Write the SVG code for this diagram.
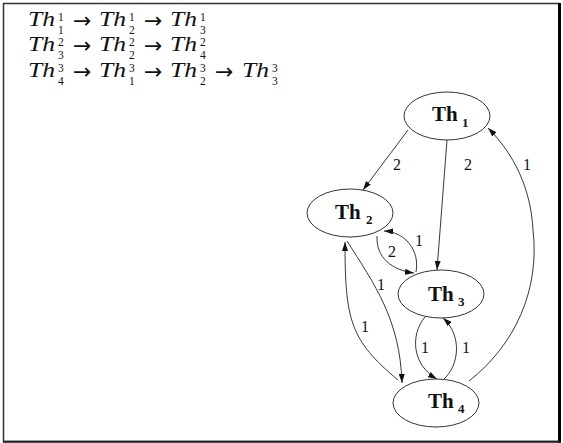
<svg xmlns="http://www.w3.org/2000/svg" width="563" height="443" viewBox="0 0 563 443">
<style>
.node ellipse{fill:#fff;stroke:#333;stroke-width:1}
.lbl{font-family:"Liberation Serif",serif;font-weight:bold;font-size:21px;fill:#111}
.sub{font-family:"Liberation Serif",serif;font-weight:bold;font-size:13px;fill:#111}
.edge{fill:none;stroke:#222;stroke-width:0.9;marker-end:url(#ah)}
.elbl{font-family:"Liberation Serif",serif;font-size:16px;fill:#111;text-anchor:middle}
.m{font-family:"Liberation Serif",serif;font-style:italic;font-weight:normal;font-size:21px;fill:#111}
.s{font-family:"Liberation Serif",serif;font-size:11.5px;fill:#111}
.ar{font-family:"DejaVu Sans",sans-serif;font-size:22px;fill:#111}
</style>
<defs>
<marker id="ah" markerWidth="9" markerHeight="6" refX="9" refY="3" orient="auto" markerUnits="userSpaceOnUse">
<path d="M0,0 L9,3 L0,6 Z" fill="#111"/>
</marker>
</defs>
<rect x="3.5" y="3.5" width="556" height="438" fill="#fff" stroke="#333" stroke-width="1.5"/>
<line x1="559.5" y1="3" x2="559.5" y2="443" stroke="#000" stroke-width="3"/>
<line x1="3" y1="441.8" x2="561" y2="441.8" stroke="#222" stroke-width="2"/>
<g id="math">
<text class="m" x="28" y="26" textLength="27" lengthAdjust="spacingAndGlyphs">Th</text>
<text class="s" x="58" y="21">1</text><text class="s" x="58" y="33.5">1</text>
<text class="ar" x="73" y="28">→</text>
<text class="m" x="99" y="26" textLength="27" lengthAdjust="spacingAndGlyphs">Th</text>
<text class="s" x="129" y="21">1</text><text class="s" x="129" y="33.5">2</text>
<text class="ar" x="144" y="28">→</text>
<text class="m" x="170" y="26" textLength="27" lengthAdjust="spacingAndGlyphs">Th</text>
<text class="s" x="200" y="21">1</text><text class="s" x="200" y="33.5">3</text>

<text class="m" x="28" y="51" textLength="27" lengthAdjust="spacingAndGlyphs">Th</text>
<text class="s" x="58" y="46">2</text><text class="s" x="58" y="58.5">3</text>
<text class="ar" x="73" y="53">→</text>
<text class="m" x="99" y="51" textLength="27" lengthAdjust="spacingAndGlyphs">Th</text>
<text class="s" x="129" y="46">2</text><text class="s" x="129" y="58.5">2</text>
<text class="ar" x="144" y="53">→</text>
<text class="m" x="170" y="51" textLength="27" lengthAdjust="spacingAndGlyphs">Th</text>
<text class="s" x="200" y="46">2</text><text class="s" x="200" y="58.5">4</text>

<text class="m" x="28" y="77" textLength="27" lengthAdjust="spacingAndGlyphs">Th</text>
<text class="s" x="58" y="72">3</text><text class="s" x="58" y="84.5">4</text>
<text class="ar" x="73" y="79">→</text>
<text class="m" x="99" y="77" textLength="27" lengthAdjust="spacingAndGlyphs">Th</text>
<text class="s" x="129" y="72">3</text><text class="s" x="129" y="84.5">1</text>
<text class="ar" x="144" y="79">→</text>
<text class="m" x="170" y="77" textLength="27" lengthAdjust="spacingAndGlyphs">Th</text>
<text class="s" x="200" y="72">3</text><text class="s" x="200" y="84.5">2</text>
<text class="ar" x="215" y="79">→</text>
<text class="m" x="242" y="77" textLength="27" lengthAdjust="spacingAndGlyphs">Th</text>
<text class="s" x="272" y="72">3</text><text class="s" x="272" y="84.5">3</text>
</g>
<g id="edges">
<path class="edge" d="M408,130 L363,190"/>
<path class="edge" d="M447,140 L437,270"/>
<path class="edge" d="M469,381 C515,345 540,290 533,230 C531,190 515,155 488,128"/>
<path class="edge" d="M377,236 C376,258 392,270 414,273"/>
<path class="edge" d="M416,272 C420,250 405,232 384,231"/>
<path class="edge" d="M347,241 C375,285 400,320 402,383"/>
<path class="edge" d="M398,380 C350,340 345,320 345,242"/>
<path class="edge" d="M425,317 C410,335 412,365 437,379"/>
<path class="edge" d="M443,380 C460,365 462,335 443,318"/>
<text class="elbl" x="397" y="170">2</text>
<text class="elbl" x="468" y="170">2</text>
<text class="elbl" x="527" y="170">1</text>
<text class="elbl" x="392" y="257">2</text>
<text class="elbl" x="419" y="246">1</text>
<text class="elbl" x="381" y="290">1</text>
<text class="elbl" x="365" y="332">1</text>
<text class="elbl" x="425" y="353">1</text>
<text class="elbl" x="466" y="353">1</text>
</g>
<g id="Th1" class="node"><ellipse cx="447" cy="116" rx="43" ry="24"/><text class="lbl" x="432" y="121">Th</text><text class="sub" x="462" y="127">1</text></g>
<g id="Th2" class="node"><ellipse cx="350" cy="213" rx="43" ry="24"/><text class="lbl" x="335" y="219">Th</text><text class="sub" x="366" y="224">2</text></g>
<g id="Th3" class="node"><ellipse cx="441" cy="294" rx="43" ry="24"/><text class="lbl" x="428" y="301">Th</text><text class="sub" x="458" y="306">3</text></g>
<g id="Th4" class="node"><ellipse cx="436" cy="403" rx="43" ry="24"/><text class="lbl" x="428" y="408">Th</text><text class="sub" x="458" y="413">4</text></g>
</svg>
